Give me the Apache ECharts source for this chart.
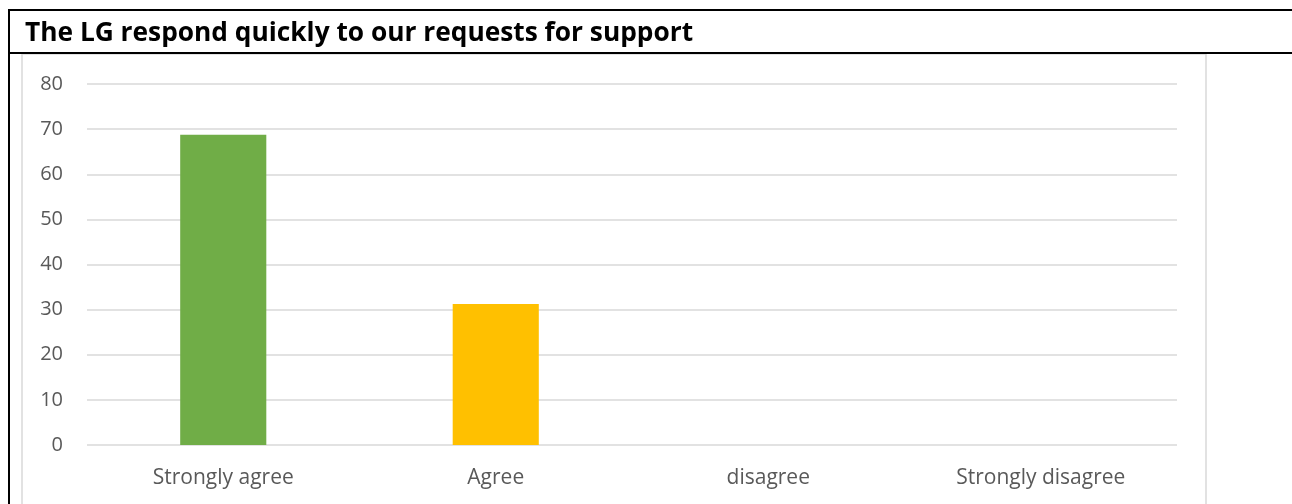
<!DOCTYPE html>
<html>
<head>
<meta charset="utf-8">
<style>
  html, body { margin: 0; padding: 0; background: #ffffff; }
  #chart { width: 1292px; height: 504px; }
</style>
<script src="https://cdn.jsdelivr.net/npm/echarts@6/dist/echarts.min.js"></script>
</head>
<body>
<div id="chart"></div>
<script>
// Survey responses (percent of respondents)
const categories = ['Strongly agree', 'Agree', 'disagree', 'Strongly disagree'];
const responses = [68.75, 31.25, 0, 0];
const barColors = ['#70AD47', '#FFC000', '#5B9BD5', '#ED7D31'];
const titleText = 'The LG respond quickly to our requests for support';

const chart = echarts.init(document.getElementById('chart'), null, { renderer: 'canvas' });

chart.setOption({
  animation: false,
  backgroundColor: '#ffffff',
  title: {
    text: titleText,
    left: 20,
    top: 16,
    textStyle: {
      fontFamily: 'Open Sans',
      fontWeight: 'bold',
      fontSize: 26.3,
      color: '#000000'
    }
  },
  grid: { left: 87, right: 115, top: 84, bottom: 59 },
  xAxis: {
    type: 'category',
    data: categories,
    axisLine: { show: false },
    axisTick: { show: false },
    axisLabel: {
      margin: 23,
      fontFamily: 'Open Sans',
      fontSize: 21,
      color: '#595959'
    }
  },
  yAxis: {
    type: 'value',
    min: 0,
    max: 80,
    interval: 10,
    axisLine: { show: false },
    axisTick: { show: false },
    axisLabel: {
      margin: 24,
      padding: [4, 0, 0, 0],
      fontFamily: 'Open Sans',
      fontSize: 20,
      color: '#595959'
    },
    splitLine: { lineStyle: { color: '#d9d9d9', width: 1.5 } }
  },
  series: [{
    type: 'bar',
    data: responses.map((v, i) => ({ value: v, itemStyle: { color: barColors[i] } })),
    barWidth: '31.6%'
  }],
  graphic: [
    // chart area frame
    { type: 'rect', shape: { x: 22, y: 54, width: 1184, height: 470 },
      style: { fill: 'none', stroke: '#d9d9d9', lineWidth: 1.5 }, z: 1 },
    // outer table borders
    { type: 'line', shape: { x1: 8, y1: 10, x2: 1292, y2: 10 },
      style: { stroke: '#000000', lineWidth: 2 }, z: 10 },
    { type: 'line', shape: { x1: 9, y1: 10, x2: 9, y2: 504 },
      style: { stroke: '#000000', lineWidth: 2 }, z: 10 },
    { type: 'line', shape: { x1: 8, y1: 53, x2: 1292, y2: 53 },
      style: { stroke: '#000000', lineWidth: 2 }, z: 10 }
  ]
});
</script>
</body>
</html>
